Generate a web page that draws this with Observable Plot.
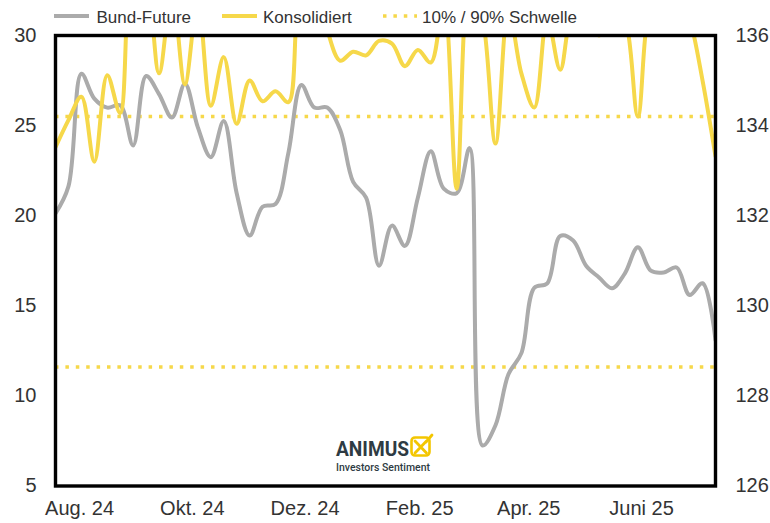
<!DOCTYPE html>
<html>
<head>
<meta charset="utf-8">
<script src="https://cdn.jsdelivr.net/npm/d3@7"></script>
<script src="https://cdn.jsdelivr.net/npm/@observablehq/plot@0.6"></script>
<style>
  body { margin: 0; background: #fff; font-family: "Liberation Sans", Arial, sans-serif; }
  #wrap { position: relative; width: 770px; height: 523px; overflow: hidden; }
  #legend { position: relative; height: 25px; font-size: 17px; color: #333; }
  #legend .sw { position: absolute; }
  #legend .tx { position: absolute; top: 9px; line-height: 17px; white-space: nowrap; }
  #chart { position: relative; height: 498px; }
  #logo { position: absolute; left: 0; top: 0; pointer-events: none; }
</style>
</head>
<body>
<div id="wrap">
  <div id="legend"></div>
  <div id="chart"></div>
  <svg id="logo" width="770" height="523">
    <text x="336" y="456" font-family="Roboto, sans-serif" font-weight="700" font-size="20" fill="#2e3b43" textLength="73" lengthAdjust="spacingAndGlyphs">ANIMUS</text>
    <rect x="411.5" y="437.5" width="18" height="18" rx="3.5" fill="none" stroke="#f3c600" stroke-width="2.6"/>
    <path d="M415 441 L426.5 453 M426.5 441 L415 453 M426 442 L432 435" stroke="#f3c600" stroke-width="2.8" fill="none" stroke-linecap="round"/>
    <text x="336" y="470.5" font-family="Roboto, sans-serif" font-weight="500" font-size="11" fill="#2e3b43" textLength="94" lengthAdjust="spacingAndGlyphs">Investors Sentiment</text>
  </svg>
</div>
<script>
// ---- data ----
const dates = ["2024-07-19","2024-07-26","2024-08-02","2024-08-09","2024-08-16","2024-08-23","2024-08-30",
  "2024-09-06","2024-09-13","2024-09-20","2024-09-27","2024-10-04","2024-10-11","2024-10-18","2024-10-25",
  "2024-11-01","2024-11-08","2024-11-15","2024-11-22","2024-11-29","2024-12-06","2024-12-13","2024-12-20",
  "2024-12-27","2025-01-03","2025-01-10","2025-01-17","2025-01-24","2025-01-31","2025-02-07","2025-02-14",
  "2025-02-21","2025-02-28","2025-03-07","2025-03-14","2025-03-21","2025-03-28","2025-04-04","2025-04-11",
  "2025-04-18","2025-04-25","2025-05-02","2025-05-09","2025-05-16","2025-05-23","2025-05-30","2025-06-06",
  "2025-06-13","2025-06-20","2025-06-27","2025-07-04","2025-07-11"];

// Bund-Future (right axis, 126–136)
const bundFuture = [132.05, 132.65, 135.15, 134.6, 134.4, 134.45, 133.56, 135.1, 134.7, 134.18, 134.93,
  133.96, 133.3, 134.1, 132.5, 131.56, 132.2, 132.26, 133.4, 134.9, 134.4, 134.4, 133.9, 132.75, 132.4,
  130.89, 131.78, 131.33, 132.4, 133.43, 132.6, 132.5, 133.5, 126.9, 127.35, 128.48, 128.95, 130.4, 130.5,
  131.55, 131.45, 130.89, 130.63, 130.39, 130.72, 131.3, 130.78, 130.74, 130.85, 130.24, 130.5, 129.24];

// Konsolidiert sentiment (left axis, 5–30, values above 30 are cut off)
const konsolidiert = [23.8, 25.3, 26.6, 23.0, 27.8, 25.7, 34, 33, 27.9, 32.5, 27.3, 32, 26.1, 28.8, 25.1,
  27.5, 26.35, 26.9, 26.3, 32.5, 33, 30.3, 28.6, 29.1, 28.9, 29.7, 29.55, 28.3, 29.2, 28.5, 32, 21.5, 33, 31,
  24.0, 31.5, 27.9, 26.0, 31, 28.1, 31.5, 32, 30.0, 32, 31, 25.5, 32, 33, 33, 31, 27.5, 23.3];

const thresholds = [25.5, 11.6];            // 10% / 90% Schwelle
const leftTicks = [5, 10, 15, 20, 25, 30];
const rightTicks = [126, 128, 130, 132, 134, 136];
const xTickDates = ["2024-08-01","2024-10-01","2024-12-01","2025-02-01","2025-04-01","2025-06-01"];
const xTickLabels = ["Aug. 24","Okt. 24","Dez. 24","Feb. 25","Apr. 25","Juni 25"];
const seriesNames = ["Bund-Future", "Konsolidiert", "10% / 90% Schwelle"];

// ---- styling ----
const GRAY = "#ababab";
const YELLOW = "#f6d84a";

// map right-axis values onto the left scale
const leftMin = 5, leftMax = 30, rightMin = 126, rightMax = 136;
const toLeft = v => leftMin + (v - rightMin) * (leftMax - leftMin) / (rightMax - rightMin);
const toRight = v => rightMin + (v - leftMin) * (rightMax - rightMin) / (leftMax - leftMin);

const parse = d3.utcParse("%Y-%m-%d");
const rows = dates.map((d, i) => ({date: parse(d), bund: toLeft(bundFuture[i]), kons: konsolidiert[i]}));
const tickD = xTickDates.map(parse);

const chart = Plot.plot({
  width: 770,
  height: 498,
  marginTop: 10,
  marginBottom: 37.5,
  marginLeft: 55,
  marginRight: 55,
  style: {fontFamily: "'Liberation Sans', Arial, sans-serif", fontSize: "20px", color: "#333", background: "transparent", overflow: "visible"},
  x: {type: "utc", domain: [rows[0].date, rows[rows.length - 1].date]},
  y: {domain: [leftMin, leftMax]},
  marks: [
    Plot.ruleY(thresholds, {stroke: YELLOW, strokeWidth: 3.5, strokeDasharray: "3.5,6.9"}),
    Plot.lineY(rows, {x: "date", y: "bund", stroke: GRAY, strokeWidth: 4, curve: "catmull-rom", clip: true}),
    Plot.lineY(rows, {x: "date", y: "kons", stroke: YELLOW, strokeWidth: 4, curve: "catmull-rom", clip: true}),
    Plot.frame({stroke: "black", strokeWidth: 3.4}),
    Plot.axisY({anchor: "left", ticks: leftTicks, tickSize: 0, tickPadding: 19, label: null}),
    Plot.axisY({anchor: "right", ticks: rightTicks.map(toLeft), tickFormat: d => String(Math.round(toRight(d))), tickSize: 0, tickPadding: 20, label: null}),
    Plot.axisX({ticks: tickD, tickFormat: d => xTickLabels[tickD.findIndex(t => +t === +d)], tickSize: 0, tickPadding: 14.5, label: null})
  ]
});
document.getElementById("chart").appendChild(chart);

// ---- legend ----
const legend = document.getElementById("legend");
const items = [
  {name: seriesNames[0], type: "solid", color: GRAY, sw: 54, tx: 96.5},
  {name: seriesNames[1], type: "solid", color: YELLOW, sw: 222, tx: 263},
  {name: seriesNames[2], type: "dot", color: YELLOW, sw: 383, tx: 422}
];
for (const it of items) {
  const s = document.createElementNS("http://www.w3.org/2000/svg", "svg");
  s.setAttribute("class", "sw");
  s.setAttribute("width", 36); s.setAttribute("height", 8);
  s.style.left = it.sw + "px"; s.style.top = "11.5px";
  const l = document.createElementNS("http://www.w3.org/2000/svg", "line");
  l.setAttribute("x1", 0); l.setAttribute("x2", it.type === "dot" ? 34 : 35);
  l.setAttribute("y1", 4); l.setAttribute("y2", 4);
  l.setAttribute("stroke", it.color);
  l.setAttribute("stroke-width", it.type === "dot" ? 3.5 : 4);
  if (it.type === "dot") l.setAttribute("stroke-dasharray", "3.5,6.9");
  s.appendChild(l);
  legend.appendChild(s);
  const t = document.createElement("span");
  t.className = "tx"; t.style.left = it.tx + "px"; t.textContent = it.name;
  legend.appendChild(t);
}
</script>
</body>
</html>
